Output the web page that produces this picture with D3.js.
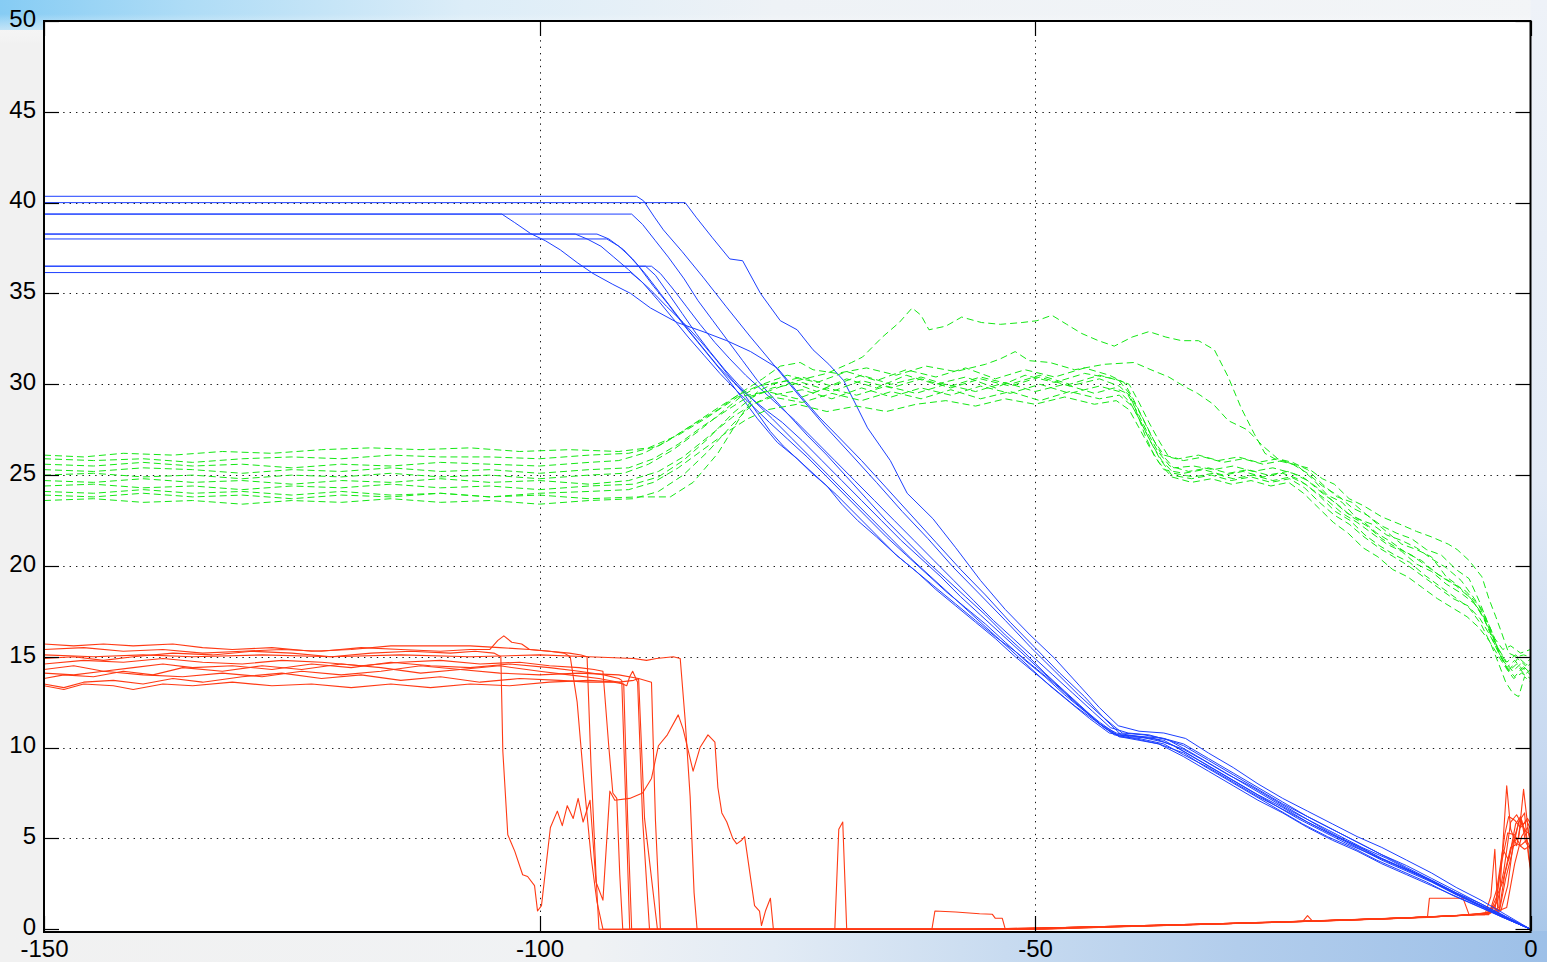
<!DOCTYPE html>
<html>
<head>
<meta charset="utf-8">
<script src="https://cdn.jsdelivr.net/npm/d3@7"></script>
<style>
  html, body { margin: 0; padding: 0; overflow: hidden; background: #f1f1f1; }
  svg { display: block; }
</style>
</head>
<body>
<svg id="chart" width="1547" height="962"></svg>
<script>
// ---- tick labels ----
const xTicks = [-150, -100, -50, 0];
const yTicks = [0, 5, 10, 15, 20, 25, 30, 35, 40, 45, 50];

// ---- blue runs (solid): flat level, then descent to the origin ----
const blueRuns = [
  [[-150,40.35],[-90.2,40.35],[-89.5,40.1],[-88.4,39.2],[-87.5,38.5],[-85.6,37.3],[-83.5,35.9],[-81.2,34.3],[-78.7,32.6],[-76.4,31.1],[-73.7,29.3],[-71.2,27.7],[-68.5,26.1],[-66,24.6],[-63.4,23.0],[-60.8,21.5],[-58.2,19.9],[-55.5,18.4],[-53,17.0],[-50.4,15.5],[-48,14.2],[-45.6,12.9],[-43.4,11.8],[-41.2,10.8],[-39,10.7],[-37,10.5],[-35,10.1],[-32.5,9.3],[-30,8.5],[-27.5,7.7],[-25,6.9],[-22.5,6.2],[-20,5.5],[-17.5,4.8],[-15,4.1],[-12.5,3.5],[-10,2.8],[-7.5,2.1],[-5,1.4],[-2.5,0.7],[0,0]],
  [[-150,40.0],[-85.3,40.0],[-84.2,39.2],[-82.6,38.1],[-80.8,36.9],[-79.5,36.8],[-77.7,35.0],[-75.7,33.5],[-74,33.0],[-72.4,31.9],[-70.8,31.1],[-69.3,30.2],[-68,28.8],[-66.9,27.6],[-64.6,25.8],[-62.9,24.0],[-60.3,22.6],[-58,21.0],[-55.5,19.2],[-53,17.6],[-50.5,16.2],[-48,14.9],[-45.5,13.4],[-43.5,12.2],[-41.6,11.2],[-39.5,10.9],[-37,10.8],[-34.8,10.5],[-32.5,9.7],[-30,8.9],[-27.5,8.0],[-25,7.2],[-22.5,6.5],[-20,5.8],[-17.5,5.1],[-15,4.5],[-12.5,3.8],[-10,3.1],[-7.5,2.3],[-5,1.6],[-2.5,0.8],[0,0]],
  [[-150,39.37],[-103.8,39.37],[-102.5,38.9],[-100.9,38.3],[-99.4,37.9],[-97.9,37.4],[-96.2,36.7],[-94.6,36.1],[-92.6,35.5],[-90.8,35.0],[-88.8,34.2],[-86.1,33.4],[-83.5,32.9],[-81.1,32.4],[-78.7,31.8],[-76.0,30.9],[-73.7,29.4],[-71.8,28.2],[-70,27.2],[-67.5,25.8],[-65,24.3],[-62.5,22.8],[-60,21.3],[-57.5,19.8],[-55,18.4],[-52.5,16.9],[-50,15.5],[-47.5,14.1],[-45,12.8],[-43,11.6],[-41.3,10.7],[-39,10.6],[-37,10.5],[-35,10.2],[-32.5,9.4],[-30,8.6],[-27.5,7.8],[-25,7.0],[-22.5,6.2],[-20,5.5],[-17.5,4.8],[-15,4.1],[-12.5,3.4],[-10,2.7],[-7.5,2.0],[-5,1.3],[-2.5,0.6],[0,0]],
  [[-150,39.37],[-90.7,39.37],[-89.6,38.8],[-88.3,37.9],[-87,37.0],[-85.4,35.8],[-84,34.6],[-82.5,33.5],[-81,32.4],[-79.5,31.3],[-78,30.2],[-76.5,29.3],[-75,28.4],[-73,27.2],[-71,26.1],[-69,24.9],[-67,23.7],[-65,22.5],[-63,21.4],[-61,20.3],[-59,19.3],[-57,18.3],[-55,17.3],[-53,16.2],[-51,15.2],[-49,14.1],[-47,13.1],[-45,12.1],[-43.5,11.3],[-41.8,10.8],[-39.5,10.6],[-37,10.3],[-35,9.9],[-33,9.3],[-30.5,8.5],[-28,7.8],[-25.5,7.0],[-23,6.2],[-20.5,5.4],[-18,4.7],[-15.5,4.0],[-13,3.4],[-10.5,2.8],[-8,2.1],[-5.5,1.4],[-3,0.7],[0,0]],
  [[-150,38.27],[-96.4,38.27],[-95.2,38.0],[-93.8,37.6],[-92.5,37.0],[-91,36.3],[-89.6,35.6],[-88,34.6],[-86.5,33.6],[-85,32.6],[-83.4,31.6],[-81.8,30.6],[-80.2,29.7],[-78.5,28.8],[-76.8,27.9],[-75,27.0],[-73,26.0],[-71,24.9],[-69,23.8],[-67,22.7],[-65,21.6],[-63,20.6],[-61,19.6],[-59,18.6],[-57,17.7],[-55,16.8],[-53,15.8],[-51,14.8],[-49,13.9],[-47,12.9],[-45,12.0],[-43,11.1],[-41.5,10.6],[-39.5,10.5],[-37,10.2],[-35,9.6],[-32.5,8.9],[-30,8.1],[-27.5,7.3],[-25,6.6],[-22.5,5.9],[-20,5.2],[-17.5,4.5],[-15,3.8],[-12.5,3.2],[-10,2.6],[-7.5,1.9],[-5,1.3],[-2.5,0.6],[0,0]],
  [[-150,38.27],[-94.2,38.27],[-93,38.0],[-91.5,37.4],[-90,36.5],[-88.5,35.4],[-87,34.4],[-85.5,33.3],[-84,32.3],[-82.5,31.3],[-81,30.3],[-79.5,29.2],[-78,28.1],[-76,26.8],[-74,25.9],[-72,24.9],[-70,23.9],[-68,22.8],[-66,21.7],[-64,20.6],[-62,19.7],[-60,18.7],[-58,17.8],[-56,16.9],[-54,16.0],[-52,15.0],[-50,14.1],[-48,13.2],[-46,12.3],[-44,11.5],[-42,10.7],[-40,10.5],[-37.5,10.2],[-35,9.5],[-32.5,8.7],[-30,7.9],[-27.5,7.1],[-25,6.4],[-22.5,5.6],[-20,4.9],[-17.5,4.3],[-15,3.6],[-12.5,3.0],[-10,2.4],[-7.5,1.8],[-5,1.2],[-2.5,0.6],[0,0]],
  [[-150,38.0],[-93.2,38.0],[-92,37.6],[-90.6,36.9],[-89.2,36.0],[-87.8,35.0],[-86.4,34.0],[-85,33.0],[-83.5,32.0],[-82,31.0],[-80.4,30.1],[-78.8,29.3],[-77.2,28.6],[-75.5,27.9],[-73.5,26.9],[-71.5,25.8],[-69.5,24.7],[-67.5,23.6],[-65.5,22.5],[-63.5,21.4],[-61.5,20.4],[-59.5,19.4],[-57.5,18.3],[-55.5,17.3],[-53.5,16.3],[-51.5,15.3],[-49.5,14.3],[-47.5,13.3],[-45.5,12.3],[-43.5,11.4],[-41.7,10.7],[-39.5,10.6],[-37,10.4],[-35,9.8],[-32.5,9.0],[-30,8.2],[-27.5,7.4],[-25,6.7],[-22.5,5.9],[-20,5.2],[-17.5,4.6],[-15,3.9],[-12.5,3.3],[-10,2.7],[-7.5,2.0],[-5,1.4],[-2.5,0.7],[0,0]],
  [[-150,36.5],[-89.3,36.5],[-88.3,36.0],[-87,35.0],[-85.6,33.9],[-84.2,32.8],[-82.8,31.8],[-81.3,30.8],[-79.8,29.9],[-78.2,29.0],[-76.5,28.1],[-74.5,27.0],[-72.5,25.9],[-70.5,24.8],[-68.5,23.7],[-66.5,22.6],[-64.5,21.5],[-62.5,20.4],[-60.5,19.4],[-58.5,18.4],[-56.5,17.4],[-54.5,16.4],[-52.5,15.4],[-50.5,14.4],[-48.5,13.4],[-46.5,12.5],[-44.5,11.6],[-42.5,10.8],[-40.5,10.6],[-38,10.5],[-36,10.1],[-33.5,9.3],[-31,8.5],[-28.5,7.7],[-26,6.9],[-23.5,6.1],[-21,5.4],[-18.5,4.7],[-16,4.1],[-13.5,3.5],[-11,2.9],[-8.5,2.2],[-6,1.5],[-3,0.8],[0,0]],
  [[-150,36.5],[-88.7,36.5],[-87.8,36.1],[-86.6,35.3],[-85.2,34.3],[-83.8,33.3],[-82.3,32.3],[-80.8,31.4],[-79.2,30.5],[-77.6,29.7],[-76,28.9],[-74.2,28.0],[-72.2,26.9],[-70.2,25.8],[-68.2,24.7],[-66.2,23.6],[-64.2,22.5],[-62.2,21.4],[-60.2,20.3],[-58.2,19.2],[-56.2,18.1],[-54.2,17.0],[-52.2,16.0],[-50.2,15.0],[-48.2,14.0],[-46.2,13.0],[-44.2,12.0],[-42.4,11.1],[-40.6,10.8],[-38.5,10.7],[-36.5,10.4],[-34.5,9.8],[-32,9.0],[-29.5,8.2],[-27,7.4],[-24.5,6.6],[-22,5.9],[-19.5,5.2],[-17,4.5],[-14.5,3.9],[-12,3.2],[-9.5,2.5],[-7,1.8],[-4.5,1.2],[-2,0.5],[0,0]],
  [[-150,36.15],[-90.8,36.15],[-89.8,35.7],[-88.8,35.2],[-87.2,34.3],[-85.5,33.4],[-83.8,32.4],[-82.1,31.3],[-80.8,30.4],[-79.4,29.5],[-78,28.4],[-76.7,27.4],[-75.4,26.6],[-74,25.9],[-72.5,25.1],[-71,24.4],[-69.5,23.4],[-67.9,22.5],[-66,21.6],[-64,20.6],[-62,19.7],[-60,18.8],[-58,17.9],[-56,17.0],[-54,16.1],[-52,15.3],[-50,14.4],[-48,13.5],[-46.2,12.6],[-44.5,11.8],[-43,11.1],[-41.5,10.6],[-39.5,10.4],[-37.5,10.2],[-35,9.7],[-33,9.0],[-30.5,8.2],[-28,7.4],[-25.5,6.6],[-23,5.8],[-20.5,5.1],[-18,4.5],[-15.5,3.8],[-13,3.2],[-10.5,2.6],[-8,1.9],[-5.5,1.3],[-3,0.7],[0,0]]
];

// ---- green runs (dashed) ----
const greenRuns = [
  [[-150,26.1],[-146,26.0],[-142,26.2],[-137,26.1],[-132,26.3],[-127,26.2],[-122,26.4],[-117,26.5],[-112,26.4],[-107,26.5],[-102,26.3],[-97,26.4],[-92,26.3],[-89,26.5],[-86,27.2],[-83,28.2],[-80,29.3],[-77,29.6],[-74,30.2],[-71,30.6],[-68.5,31.2],[-67.4,31.5],[-65.4,32.6],[-63.7,33.4],[-62.4,34.2],[-61.5,33.8],[-60.7,33.0],[-59,33.2],[-57.4,33.7],[-55.4,33.4],[-53.5,33.3],[-51.3,33.4],[-49.8,33.5],[-48.3,33.8],[-46.8,33.3],[-45.3,32.8],[-43.6,32.4],[-42,32.1],[-40.2,32.6],[-38.5,32.9],[-36.8,32.6],[-35.2,32.4],[-33.5,32.4],[-31.9,31.9],[-30.5,30.4],[-29.2,28.7],[-27.9,27.3],[-26.8,26.2],[-25.5,25.8],[-24,25.6],[-22.5,25.4],[-21,24.8],[-19.8,24.5],[-18.3,23.7],[-16.8,23.3],[-15,22.7],[-13.2,22.3],[-11.5,21.9],[-10,21.6],[-8.3,21.2],[-7.4,20.9],[-6.2,20.3],[-4.9,19.4],[-4.2,18.2],[-3.5,17.2],[-2.9,16.3],[-2.2,15.2],[-1.4,15.0],[-0.7,15.1],[0,15.0]],
  [[-150,25.9],[-145,25.8],[-140,25.9],[-135,25.7],[-130,25.9],[-125,26.0],[-120,25.9],[-115,26.1],[-110,26.0],[-105,26.0],[-100,25.9],[-95,26.1],[-91,26.2],[-88,26.6],[-85,27.6],[-82,28.6],[-79.5,29.6],[-77.5,30.3],[-75.7,31.0],[-73.7,31.2],[-72.4,30.8],[-70,30.6],[-67,30.9],[-64,30.5],[-61,31.0],[-58,30.7],[-55,31.1],[-53.5,31.4],[-52,31.8],[-50.6,31.3],[-48.5,31.2],[-46,30.8],[-43,31.1],[-40,31.2],[-38.3,30.8],[-36.5,30.4],[-35,29.9],[-33.6,29.5],[-32,28.9],[-30.5,28.0],[-28.6,27.5],[-27,26.6],[-25.5,25.9],[-24,25.7],[-22.5,25.3],[-21,24.5],[-19.5,23.8],[-18,23.5],[-16.5,22.8],[-15,22.1],[-13,21.2],[-11.5,20.9],[-10,20.5],[-8.5,19.4],[-7.5,19.0],[-6,18.2],[-5,17.4],[-4.2,16.5],[-3.2,15.4],[-2.4,14.7],[-1.5,15.1],[-0.5,14.6],[0,14.9]],
  [[-150,25.6],[-145,25.5],[-140,25.7],[-135,25.5],[-130,25.6],[-125,25.4],[-120,25.6],[-115,25.5],[-110,25.7],[-105,25.6],[-100,25.5],[-95,25.7],[-92,25.8],[-89.5,26.2],[-87,26.9],[-84.5,27.8],[-82,28.7],[-80,29.4],[-78,29.9],[-75,30.2],[-72,29.6],[-69,30.3],[-66,29.8],[-63,30.5],[-60,30.0],[-57,30.4],[-54,29.8],[-51,30.5],[-48,30.1],[-45,30.6],[-42,30.3],[-40.5,30.0],[-39.5,29.0],[-38.5,27.9],[-37.5,26.9],[-36.5,26.0],[-35,25.8],[-33,26.0],[-31,25.7],[-29,25.9],[-27,25.6],[-25,25.8],[-23.5,25.5],[-22,24.8],[-20.5,23.9],[-19,23.5],[-17.5,22.6],[-16,22.3],[-14.5,21.7],[-13,21.4],[-11.5,21.0],[-10,20.4],[-8.5,19.9],[-7,19.2],[-5.8,18.3],[-4.8,17.5],[-4,16.5],[-3.2,15.3],[-2.4,14.4],[-1.6,14.8],[-0.8,14.3],[0,14.6]],
  [[-150,25.3],[-145,25.2],[-140,25.4],[-135,25.3],[-130,25.1],[-125,25.3],[-120,25.2],[-115,25.4],[-110,25.2],[-105,25.3],[-100,25.1],[-95,25.3],[-91,25.4],[-88.5,25.9],[-86,26.7],[-83.5,27.7],[-81,28.6],[-79,29.3],[-77,29.6],[-74,29.2],[-71,29.8],[-68,29.4],[-65,29.9],[-62,29.5],[-59,30.0],[-56,29.6],[-53,30.1],[-50,29.6],[-47,30.0],[-44,29.5],[-42,29.8],[-40.7,29.5],[-39.7,28.5],[-38.7,27.4],[-37.6,26.3],[-36.4,25.5],[-34.5,25.2],[-32.5,25.4],[-30.5,25.1],[-28.5,25.3],[-26.5,25.0],[-24.5,25.2],[-23,24.9],[-21.5,24.3],[-20,23.6],[-18.5,22.9],[-17,22.5],[-15.5,21.8],[-14,21.3],[-12.5,20.7],[-11,20.3],[-9.5,19.6],[-8,19.1],[-6.5,18.6],[-5.2,17.8],[-4.2,16.7],[-3.4,15.6],[-2.6,14.8],[-1.8,14.2],[-1,14.6],[0,14.1]],
  [[-150,25.0],[-145,25.1],[-140,24.9],[-135,25.0],[-130,24.8],[-125,25.0],[-120,24.9],[-115,25.1],[-110,24.9],[-105,25.0],[-100,24.8],[-95,25.0],[-91.5,25.1],[-89,25.6],[-86.5,26.4],[-84,27.4],[-81.5,28.5],[-79.5,29.4],[-77.5,30.0],[-75,30.5],[-72,30.1],[-69,30.7],[-66,30.2],[-63,30.8],[-60,30.4],[-57,30.9],[-54,30.3],[-51,30.8],[-48,30.4],[-45,30.9],[-42.5,30.5],[-41,30.1],[-40,29.1],[-39,28.0],[-38,26.9],[-37,26.1],[-35.5,25.9],[-33.5,26.1],[-31.5,25.8],[-29.5,26.0],[-27.5,25.7],[-25.5,25.9],[-24,25.6],[-22.5,25.1],[-21,24.4],[-19.5,23.9],[-18,23.2],[-16.5,22.8],[-15,22.2],[-13.5,21.8],[-12,21.5],[-10.5,20.9],[-9,20.6],[-7.5,19.8],[-6.2,19.3],[-5.2,18.1],[-4.4,17.0],[-3.6,16.0],[-2.8,15.4],[-2,15.6],[-1,15.2],[0,15.4]],
  [[-150,24.7],[-145,24.6],[-140,24.8],[-135,24.6],[-130,24.7],[-125,24.5],[-120,24.7],[-115,24.6],[-110,24.8],[-105,24.6],[-100,24.7],[-95,24.5],[-91,24.7],[-88,25.2],[-85.5,26.0],[-83,27.1],[-80.5,28.2],[-78.5,28.9],[-76.5,29.3],[-73.5,29.0],[-70.5,29.5],[-67.5,29.1],[-64.5,29.6],[-61.5,29.2],[-58.5,29.7],[-55.5,29.2],[-52.5,29.6],[-49.5,29.1],[-46.5,29.6],[-43.5,29.2],[-41.5,29.4],[-40.2,28.8],[-39.2,27.8],[-38.2,26.7],[-37.2,25.8],[-36,25.1],[-34,24.9],[-32,25.1],[-30,24.8],[-28,25.0],[-26,24.7],[-24.2,24.9],[-22.7,24.5],[-21.2,23.8],[-19.7,23.0],[-18.2,22.5],[-16.7,21.7],[-15.2,21.1],[-13.7,20.6],[-12.2,20.2],[-10.7,19.5],[-9.2,18.9],[-7.7,18.3],[-6.2,17.7],[-5,16.8],[-4,15.7],[-3.2,14.6],[-2.5,13.6],[-1.8,13.0],[-1.2,12.8],[-0.6,13.9],[0,13.6]],
  [[-150,24.4],[-145,24.5],[-140,24.3],[-135,24.4],[-130,24.2],[-125,24.4],[-120,24.3],[-115,24.5],[-110,24.3],[-105,24.4],[-100,24.2],[-95,24.4],[-90.5,24.5],[-88,24.9],[-85.5,25.8],[-83,27.0],[-80.5,28.4],[-78.5,29.3],[-76.5,29.8],[-73.5,30.1],[-70.5,29.6],[-67.5,30.2],[-64.5,29.8],[-61.5,30.3],[-58.5,29.8],[-55.5,30.3],[-52.5,29.9],[-49.5,30.4],[-46.5,29.9],[-43.5,30.3],[-41.5,29.9],[-40.3,29.3],[-39.3,28.3],[-38.3,27.2],[-37.3,26.2],[-36,25.4],[-34,25.5],[-32,25.3],[-30,25.5],[-28,25.2],[-26,25.4],[-24,25.1],[-22.5,24.7],[-21,24.0],[-19.5,23.4],[-18,22.7],[-16.5,22.2],[-15,21.5],[-13.5,21.0],[-12,20.6],[-10.5,20.0],[-9,19.4],[-7.5,18.9],[-6,18.2],[-4.8,17.3],[-3.8,16.1],[-3,15.0],[-2.2,14.2],[-1.4,14.6],[-0.6,14.0],[0,14.3]],
  [[-150,24.1],[-145,24.0],[-140,24.2],[-135,24.0],[-130,24.1],[-125,23.9],[-120,24.1],[-115,23.9],[-110,24.0],[-105,23.8],[-100,24.0],[-95,24.1],[-91,24.2],[-88.5,24.6],[-86,25.4],[-83.5,26.4],[-81,27.4],[-79,28.1],[-77,28.6],[-74,28.9],[-71,28.5],[-68,28.8],[-65,28.5],[-62,28.9],[-59,29.1],[-56,28.8],[-53,29.2],[-50,28.9],[-47,29.3],[-44,28.9],[-41.8,29.1],[-40.5,28.6],[-39.5,27.6],[-38.5,26.6],[-37.5,25.7],[-36.2,24.9],[-34.2,24.6],[-32.2,24.8],[-30.2,24.5],[-28.2,24.7],[-26.2,24.4],[-24.4,24.6],[-22.9,24.0],[-21.4,23.2],[-19.9,22.4],[-18.4,21.8],[-16.9,21.0],[-15.4,20.5],[-13.9,19.8],[-12.4,19.4],[-10.9,18.8],[-9.4,18.2],[-7.9,17.7],[-6.4,17.2],[-5.2,16.6],[-4.2,15.9],[-3.3,15.1],[-2.5,14.4],[-1.7,13.8],[-0.9,14.1],[0,13.8]],
  [[-150,23.9],[-145,23.8],[-140,24.0],[-135,23.8],[-130,23.9],[-125,23.7],[-120,23.9],[-115,23.8],[-110,24.0],[-105,23.8],[-100,23.9],[-95,23.7],[-90,23.8],[-86.8,23.8],[-84.5,24.6],[-82,26.2],[-79.5,28.4],[-78,29.6],[-76.5,30.0],[-73.5,30.4],[-70.5,29.9],[-67.5,30.5],[-64.5,30.0],[-61.5,30.4],[-58.5,29.9],[-55.5,30.4],[-52.5,30.0],[-49.5,30.5],[-46.5,30.0],[-43.5,30.5],[-41.5,30.2],[-40.5,29.5],[-39.7,28.4],[-38.9,27.2],[-38,26.1],[-37,25.3],[-35,25.1],[-33,25.3],[-31,25.0],[-29,25.2],[-27,24.9],[-25,25.1],[-23.5,24.8],[-22,24.2],[-20.5,23.6],[-19,22.9],[-17.5,22.4],[-16,21.8],[-14.5,21.2],[-13,20.8],[-11.5,20.1],[-10,19.7],[-8.5,19.0],[-7,18.5],[-5.6,17.9],[-4.6,17.0],[-3.7,15.8],[-2.9,14.9],[-2.1,14.3],[-1.3,14.9],[-0.5,14.5],[0,14.8]],
  [[-150,23.6],[-145,23.7],[-140,23.5],[-135,23.6],[-130,23.4],[-125,23.6],[-120,23.5],[-115,23.7],[-110,23.5],[-105,23.6],[-100,23.4],[-95,23.6],[-90.5,23.7],[-88,24.1],[-85.5,25.0],[-83,26.3],[-80.5,27.8],[-78.5,28.9],[-76.5,29.4],[-73.5,29.7],[-70.5,29.2],[-67.5,29.8],[-64.5,29.3],[-61.5,29.8],[-58.5,29.4],[-55.5,29.9],[-52.5,29.5],[-49.5,30.0],[-46.5,29.5],[-43.5,29.9],[-41.5,29.6],[-40.4,29.0],[-39.4,28.0],[-38.4,26.9],[-37.4,25.9],[-36.2,25.0],[-34.2,24.8],[-32.2,25.0],[-30.2,24.7],[-28.2,24.9],[-26.2,24.6],[-24.3,24.8],[-22.8,24.3],[-21.3,23.5],[-19.8,22.8],[-18.3,22.3],[-16.8,21.6],[-15.3,21.0],[-13.8,20.5],[-12.3,20.0],[-10.8,19.4],[-9.3,18.8],[-7.8,18.2],[-6.3,17.8],[-5.1,17.1],[-4.1,16.2],[-3.2,15.2],[-2.4,14.4],[-1.6,13.9],[-0.8,14.4],[0,14.0]]
];

// ---- red runs (solid): level band, collapse to zero, late spikes ----
const redRuns = [
  [[-150,15.1],[-145,15.0],[-140,15.1],[-135,15.0],[-128,15.1],[-121,15.0],[-114,15.1],[-107,15.0],[-100,15.1],[-95,15.0],[-90.5,14.9],[-89.2,14.8],[-88.2,14.9],[-86.5,15.0],[-85.8,14.9],[-85.3,11.5],[-84.8,7.3],[-84.4,2.0],[-84.1,0],[-56,0],[-49,0.07],[-41,0.17],[-33,0.28],[-26,0.38],[-19,0.5],[-13,0.61],[-8,0.73],[-4.5,0.85],[-3.6,1.0],[-3.0,3.5],[-2.6,5.2],[-2.2,6.2],[-1.6,6.0],[-1.0,5.6],[-0.4,6.0],[0,5.5]],
  [[-150,14.9],[-147,15.0],[-144,14.8],[-141,15.0],[-137,15.2],[-133,15.1],[-129,15.3],[-125,15.2],[-121,15.0],[-117,15.2],[-113,15.3],[-109,15.2],[-106.5,15.3],[-104.6,15.2],[-103.9,15.0],[-103.7,9.8],[-103.2,5.2],[-102.5,4.3],[-101.7,3.0],[-101.2,2.9],[-100.5,2.4],[-100.2,1.0],[-99.8,1.3],[-98.9,5.6],[-98.2,6.5],[-97.7,5.7],[-97.2,6.8],[-96.6,6.1],[-96.1,7.2],[-95.6,5.9],[-94.9,7.1],[-94.3,2.6],[-93.6,1.6],[-92.9,7.6],[-92.4,7.1],[-90.9,7.2],[-89.6,7.5],[-88.7,8.3],[-88.0,10.1],[-87.1,10.7],[-86.0,11.8],[-85.5,11.0],[-84.5,8.7],[-83.8,10.0],[-83.0,10.7],[-82.3,10.3],[-82.0,7.8],[-81.6,6.4],[-81.1,5.9],[-80.5,5.0],[-80.1,4.7],[-79.6,4.9],[-79.3,5.1],[-78.8,3.2],[-78.3,1.3],[-77.8,1.0],[-77.6,0.2],[-77.2,1.0],[-76.7,1.7],[-76.4,0],[-54,0],[-47,0.09],[-39,0.2],[-31,0.31],[-24,0.42],[-17,0.54],[-11,0.66],[-6.5,0.78],[-4,0.9],[-3.2,1.2],[-2.4,7.9],[-2.0,5.5],[-1.4,4.6],[-0.9,6.0],[-0.5,4.8],[0,4.4]],
  [[-150,15.7],[-147,15.6],[-144,15.7],[-141,15.6],[-137,15.7],[-134,15.5],[-131,15.4],[-127,15.5],[-123,15.3],[-119,15.4],[-115,15.6],[-111,15.6],[-107,15.6],[-104,15.5],[-101,15.4],[-99,15.3],[-97.5,15.2],[-96.9,15.0],[-96.2,12.5],[-95.5,8.0],[-94.8,4.0],[-94.2,1.5],[-93.6,0],[-57,0],[-50,0.06],[-42,0.15],[-34,0.26],[-27,0.36],[-20,0.47],[-14,0.58],[-9,0.7],[-5.5,0.8],[-4.2,0.8],[-3.4,2.2],[-2.8,4.4],[-2.2,3.8],[-1.5,5.8],[-1.0,6.2],[-0.4,5.0],[0,3.4]],
  [[-150,15.4],[-146,15.5],[-142,15.3],[-138,15.4],[-134,15.2],[-130,15.3],[-126,15.4],[-122,15.3],[-118,15.5],[-114,15.4],[-110,15.3],[-107,15.4],[-105,15.4],[-104.2,15.9],[-103.6,16.15],[-102.8,15.8],[-101.8,15.7],[-101,15.4],[-99,15.3],[-97,15.2],[-95.8,15.1],[-95.2,15.0],[-94.8,9.0],[-94.3,3.0],[-94.0,0],[-70.2,0],[-69.8,5.5],[-69.4,5.9],[-69.0,0],[-55,0],[-48,0.08],[-40,0.19],[-32,0.3],[-25,0.41],[-18,0.53],[-12,0.64],[-7,0.76],[-4.4,0.9],[-3.8,1.3],[-3.2,0.9],[-2.6,3.0],[-1.8,4.8],[-1.2,5.0],[-0.7,7.7],[-0.2,5.3],[0,4.9]],
  [[-150,14.6],[-146,14.8],[-142,14.7],[-138,14.9],[-134,14.7],[-130,14.6],[-126,14.8],[-122,14.7],[-118,14.5],[-114,14.7],[-110,14.8],[-106,14.6],[-102,14.7],[-99,14.5],[-96,14.4],[-94.5,14.3],[-93.6,14.2],[-93.0,10.0],[-92.6,7.5],[-92.2,7.2],[-91.9,3.0],[-91.6,0],[-53,0],[-46,0.1],[-38,0.21],[-30,0.32],[-23,0.43],[-16,0.55],[-10.4,0.65],[-10.2,1.7],[-6.8,1.7],[-6.2,0.8],[-4.1,0.9],[-2.8,2.6],[-2.0,4.5],[-1.3,4.7],[-0.6,4.4],[0,4.6]],
  [[-150,14.3],[-147,14.5],[-144,14.2],[-141,14.4],[-138,14.6],[-135,14.4],[-131,14.5],[-127,14.3],[-123,14.6],[-119,14.4],[-115,14.7],[-111,14.5],[-107,14.4],[-103,14.6],[-99,14.4],[-96,14.2],[-93.5,14.0],[-92,13.8],[-91.7,13.7],[-91.3,7.0],[-90.9,0],[-60.4,0],[-60.1,1.0],[-58,0.95],[-55.6,0.85],[-54.3,0.82],[-54.0,0.6],[-53.3,0.6],[-53.0,0],[-52,0],[-45,0.11],[-37,0.22],[-29,0.33],[-22,0.44],[-15,0.57],[-9.5,0.69],[-5.8,0.8],[-4.0,0.95],[-3.3,1.6],[-2.7,3.2],[-2.0,5.9],[-1.4,6.3],[-0.8,5.7],[-0.3,6.1],[0,5.8]],
  [[-150,13.5],[-148,13.3],[-146,13.6],[-143,13.7],[-140,13.5],[-137,13.8],[-134,13.6],[-130,13.9],[-126,14.1],[-122,13.8],[-118,14.0],[-114,13.7],[-110,13.9],[-106,13.6],[-102,13.8],[-98,13.7],[-95,13.6],[-92.5,13.6],[-91.5,13.5],[-91.1,6.0],[-90.7,0],[-50,0],[-43,0.12],[-35,0.24],[-28,0.34],[-23,0.42],[-22.5,0.75],[-22.0,0.45],[-16,0.56],[-10,0.68],[-6,0.78],[-4.6,0.8],[-4.0,1.8],[-3.6,4.4],[-3.3,1.0],[-2.4,1.2],[-1.6,3.6],[-0.9,5.1],[-0.3,5.6],[0,4.7]],
  [[-150,13.8],[-148,14.0],[-145,13.9],[-142,14.2],[-139,14.0],[-136,14.4],[-132,14.2],[-128,14.5],[-124,14.3],[-120,14.6],[-116,14.4],[-112,14.1],[-108,14.3],[-104,14.5],[-100,14.2],[-97,14.0],[-94,13.8],[-92,13.6],[-91.2,13.4],[-90.9,13.9],[-90.6,14.2],[-90.1,13.6],[-89.6,6.1],[-88.9,0],[-51,0],[-44,0.1],[-36,0.23],[-28,0.35],[-21,0.46],[-14,0.59],[-8.5,0.72],[-5,0.82],[-4.2,0.9],[-3.5,1.4],[-2.9,3.7],[-2.3,5.3],[-1.6,5.2],[-1.0,4.6],[-0.4,4.9],[0,4.5]],
  [[-150,13.4],[-148,13.2],[-146,13.5],[-143,13.4],[-141,13.2],[-138,13.5],[-135,13.4],[-131,13.6],[-127,13.4],[-123,13.5],[-119,13.3],[-115,13.5],[-111,13.3],[-107,13.5],[-103,13.4],[-99,13.6],[-95,13.7],[-92,13.6],[-90.5,13.7],[-90.0,13.8],[-89.4,6.1],[-88.1,0],[-52,0],[-45,0.1],[-37,0.21],[-29,0.33],[-22,0.45],[-15,0.57],[-9,0.7],[-5,0.82],[-4.0,0.9],[-3.1,1.1],[-2.5,2.8],[-1.9,4.1],[-1.2,5.9],[-0.6,6.4],[-0.2,4.0],[0,3.3]],
  [[-150,14.1],[-147,14.0],[-144,14.2],[-140,14.0],[-136,13.9],[-132,14.1],[-128,13.9],[-124,14.2],[-120,14.0],[-116,14.2],[-112,14.5],[-108,14.3],[-104,14.1],[-100,14.0],[-96,14.1],[-92,14.0],[-90,13.8],[-88.7,13.6],[-88.3,6.0],[-87.8,0],[-49,0],[-42,0.13],[-34,0.25],[-27,0.37],[-20,0.49],[-13,0.62],[-8,0.74],[-5,0.82],[-4.4,0.85],[-3.7,1.2],[-3.0,1.0],[-2.3,2.4],[-1.7,4.9],[-1.1,6.0],[-0.5,5.4],[0,5.2]]
];

// ---- layout ----
const W = 1547, H = 962;
const frame = { left: 44, right: 1530.5, top: 21, bottom: 931 };

const x = d3.scaleLinear().domain([-150, 0]).range([frame.left, frame.right]);
// zero sits just inside the lower frame edge so lines resting on it stay visible
const y = d3.scaleLinear().domain([0, 50]).range([frame.bottom - 1.8, frame.top]);

const svg = d3.select("#chart");
const defs = svg.append("defs");

// desktop-like surround
const topGrad = defs.append("linearGradient").attr("id", "topBand").attr("x1", 0).attr("x2", 1).attr("y1", 0).attr("y2", 0);
[[0, "#86ccf4"], [0.12, "#aedcf6"], [0.3, "#dcedf8"], [0.5, "#eef2f6"], [1, "#f3f5f7"]]
  .forEach(([o, c]) => topGrad.append("stop").attr("offset", o).attr("stop-color", c));
const topFade = defs.append("linearGradient").attr("id", "topFade").attr("x1", 0).attr("x2", 0).attr("y1", 0).attr("y2", 1);
[[0, "#ffffff", 0], [1, "#f1f1f1", 1]].forEach(([o, c, a]) => topFade.append("stop").attr("offset", o).attr("stop-color", c).attr("stop-opacity", a));

const botGrad = defs.append("linearGradient").attr("id", "botBand").attr("x1", 0).attr("x2", 1).attr("y1", 0).attr("y2", 0);
[[0, "#f1f1f1"], [0.38, "#f0f2f4"], [0.5, "#e2ebf5"], [0.65, "#c8dbf0"], [0.8, "#b2cdec"], [1, "#9dc0e8"]]
  .forEach(([o, c]) => botGrad.append("stop").attr("offset", o).attr("stop-color", c));

const rightGrad = defs.append("linearGradient").attr("id", "rightBand").attr("x1", 0).attr("x2", 0).attr("y1", 0).attr("y2", 1);
[[0, "#eef2f8"], [0.5, "#e2eaf6"], [0.8, "#c6d8f0"], [1, "#a4c4e8"]]
  .forEach(([o, c]) => rightGrad.append("stop").attr("offset", o).attr("stop-color", c));

svg.append("rect").attr("width", W).attr("height", H).attr("fill", "#f1f1f1");
svg.append("rect").attr("x", 0).attr("y", 0).attr("width", W).attr("height", 30).attr("fill", "url(#topBand)");
svg.append("rect").attr("x", 0).attr("y", 14).attr("width", W).attr("height", 30).attr("fill", "url(#topFade)");
svg.append("rect").attr("x", frame.right).attr("y", 0).attr("width", W - frame.right).attr("height", H).attr("fill", "url(#rightBand)");
svg.append("rect").attr("x", 0).attr("y", frame.bottom).attr("width", W).attr("height", H - frame.bottom).attr("fill", "url(#botBand)");

// plot area
svg.append("rect")
  .attr("x", frame.left).attr("y", frame.top)
  .attr("width", frame.right - frame.left).attr("height", frame.bottom - frame.top)
  .attr("fill", "#ffffff");

defs.append("clipPath").attr("id", "plotClip")
  .append("rect")
  .attr("x", frame.left).attr("y", frame.top - 1)
  .attr("width", frame.right - frame.left).attr("height", frame.bottom - frame.top);

// dotted grid
const grid = svg.append("g").attr("stroke", "#1a1a1a").attr("stroke-width", 1).attr("stroke-dasharray", "1.4,5");
grid.selectAll("line.gy").data(yTicks.filter(v => v > 0 && v < 50)).join("line")
  .attr("x1", frame.left).attr("x2", frame.right)
  .attr("y1", d => Math.round(y(d)) + 0.5).attr("y2", d => Math.round(y(d)) + 0.5);
grid.selectAll("line.gx").data(xTicks.filter(v => v > -150 && v < 0)).join("line")
  .attr("y1", frame.top).attr("y2", frame.bottom)
  .attr("x1", d => Math.round(x(d)) + 0.5).attr("x2", d => Math.round(x(d)) + 0.5);

// data lines
const line = d3.line().x(d => x(d[0])).y(d => y(d[1]));
const marks = svg.append("g").attr("clip-path", "url(#plotClip)").attr("fill", "none");

marks.append("g").selectAll("path").data(redRuns).join("path")
  .attr("d", line).attr("stroke", "#ff3a14").attr("stroke-width", 1.1).attr("stroke-linejoin", "round");

marks.append("g").selectAll("path").data(blueRuns).join("path")
  .attr("d", line).attr("stroke", "#1c3fff").attr("stroke-width", 1).attr("stroke-linejoin", "round");

marks.append("g").selectAll("path").data(greenRuns).join("path")
  .attr("d", line).attr("stroke", "#14e814").attr("stroke-width", 1)
  .attr("stroke-dasharray", "7,4");

// inner tick marks on all four sides
const tickLen = 15;
const ticks = svg.append("g").attr("stroke", "#000").attr("stroke-width", 1.2);
yTicks.forEach(v => {
  const py = Math.round(y(v)) + 0.5;
  ticks.append("line").attr("x1", frame.left).attr("x2", frame.left + tickLen).attr("y1", py).attr("y2", py);
  ticks.append("line").attr("x1", frame.right - tickLen).attr("x2", frame.right).attr("y1", py).attr("y2", py);
});
xTicks.forEach(v => {
  const px = Math.round(x(v)) + 0.5;
  ticks.append("line").attr("x1", px).attr("x2", px).attr("y1", frame.bottom).attr("y2", frame.bottom - tickLen);
  ticks.append("line").attr("x1", px).attr("x2", px).attr("y1", frame.top).attr("y2", frame.top + tickLen);
});

// box
svg.append("rect")
  .attr("x", frame.left).attr("y", frame.top)
  .attr("width", frame.right - frame.left).attr("height", frame.bottom - frame.top + 1)
  .attr("fill", "none").attr("stroke", "#000").attr("stroke-width", 2);

// tick labels
const fmt = d => String(d);
const yAxis = svg.append("g")
  .attr("transform", `translate(${frame.left},0)`)
  .call(d3.axisLeft(y).tickValues(yTicks).tickSize(0).tickPadding(8).tickFormat(fmt));
const xAxis = svg.append("g")
  .attr("transform", `translate(0,${frame.bottom + 1})`)
  .call(d3.axisBottom(x).tickValues(xTicks).tickSize(0).tickPadding(8).tickFormat(fmt));

[yAxis, xAxis].forEach(g => {
  g.select(".domain").remove();
  g.selectAll("text")
    .attr("fill", "#000")
    .style("font-family", "'Liberation Sans', Arial, Helvetica, sans-serif")
    .style("font-size", "24px");
});
yAxis.selectAll("text").attr("dy", "0.22em");
</script>
</body>
</html>
